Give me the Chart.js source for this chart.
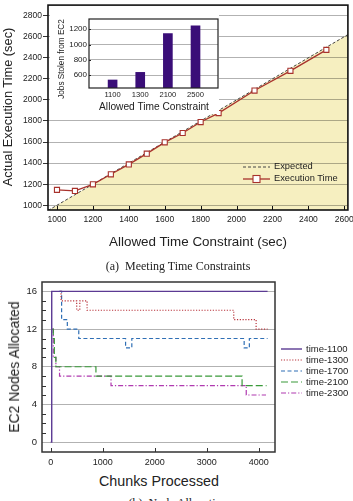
<!DOCTYPE html>
<html>
<head>
<meta charset="utf-8">
<script src="https://cdn.jsdelivr.net/npm/chart.js@4/dist/chart.umd.min.js"></script>
<style>
  body { margin: 0; width: 353px; height: 501px; overflow: hidden; background: #fff; position: relative;
         font-family: "Liberation Sans", Arial, sans-serif; color: #222; }
  canvas { position: absolute; }
  .ctr { position: absolute; transform: translate(-50%, -50%); white-space: nowrap; line-height: 1; }
  .rot { position: absolute; transform: translate(-50%, -50%) rotate(-90deg); white-space: nowrap; line-height: 1; }
  .cap { font-family: "Liberation Serif", "Times New Roman", serif; font-size: 12px; color: #222; }
  .leg { position: absolute; font-size: 9.3px; line-height: 1; white-space: nowrap; }
  .leg svg { position: absolute; }
  #insetBox { position: absolute; left: 50px; top: 6px; width: 169px; height: 108px; background: #fff; }
</style>
</head>
<body>

<canvas id="topChart" width="353" height="250" style="left:0;top:0"></canvas>
<div id="insetBox"><canvas id="insetChart" width="169" height="108" style="left:0;top:0"></canvas></div>
<canvas id="nodeChart" width="353" height="200" style="left:0;top:272px"></canvas>

<!-- titles -->
<div class="rot" style="left:8px;top:107px;font-size:12.8px">Actual Execution Time (sec)</div>
<div class="ctr" style="left:198px;top:242px;font-size:13.4px">Allowed Time Constraint (sec)</div>
<div class="ctr cap" style="left:178px;top:266px">(a)&nbsp;&nbsp;Meeting Time Constraints</div>
<div class="rot" style="left:62px;top:59px;font-size:8.2px">Jobs Stolen from EC2</div>
<div class="ctr" style="left:154px;top:107px;font-size:10.2px">Allowed Time Constraint</div>

<div class="rot" style="left:15px;top:367px;font-size:13.9px">EC2 Nodes Allocated</div>
<div class="ctr" style="left:159px;top:481px;font-size:14.3px">Chunks Processed</div>
<div class="ctr cap" style="left:178px;top:503px">(b)&nbsp;&nbsp;Node Allocation</div>

<div id="topLegend"></div>
<div id="nodeLegend"></div>

<script>
// ---- top chart: execution time vs allowed time
const allowedTimes = [1000, 1100, 1200, 1300, 1400, 1500, 1600, 1700, 1800, 1900, 2100, 2300, 2500];
const execTimes    = [1146, 1136, 1199, 1294, 1388, 1490, 1597, 1686, 1790, 1875, 2089, 2276, 2475];
const expectedX = [950, 2620];
const expectedY = [950, 2620];
const topXTicks = [1000, 1200, 1400, 1600, 1800, 2000, 2200, 2400, 2600];
const topYTicks = [1000, 1200, 1400, 1600, 1800, 2000, 2200, 2400, 2600, 2800];

// ---- inset bars: jobs stolen
const insetLabels = ['1100', '1300', '2100', '2500'];
const jobsStolen = [535, 635, 1145, 1245];
const insetYTicks = [600, 800, 1000, 1200];

// ---- bottom chart: nodes allocated (x = chunk where value changes, y = new value)
const t1100x = [0, 20, 4170];
const t1100y = [0, 16, 16];
const t1300x = [180, 200, 500, 560, 700, 3520, 3950, 4170];
const t1300y = [16, 15, 14, 15, 14, 13, 12, 12];
const t1700x = [160, 210, 320, 540, 1440, 1560, 3720, 3820, 4170];
const t1700y = [16, 13, 12, 11, 10, 11, 10, 11, 11];
const t2100x = [30, 50, 70, 100, 870, 3680, 4150];
const t2100y = [12, 11, 9, 8, 7, 6, 6];
const t2300x = [30, 50, 100, 170, 1160, 3760, 4140];
const t2300y = [12, 9, 8, 7, 6, 5, 5];
const nodeXTicks = [0, 1000, 2000, 3000, 4000];
const nodeYTicks = [0, 4, 8, 12, 16];
const nodeYMinor = [1, 2, 3, 5, 6, 7, 9, 10, 11, 13, 14, 15];

const SANS = '"Liberation Sans", Arial, sans-serif';
const GRID = 'rgba(0,0,0,0.3)';
const plain = v => String(v);

const pts = (xs, ys) => xs.map((x, i) => ({ x: x, y: ys[i] }));

// frame + inner tick marks
const frameTicks = {
  id: 'frameTicks',
  afterDraw(chart, args, o) {
    const { ctx, chartArea: a, scales } = chart;
    ctx.save();
    ctx.strokeStyle = o.color;
    ctx.lineWidth = 1;
    ctx.beginPath();
    (o.x || []).forEach(v => {
      const p = Math.round(scales.x.getPixelForValue(v)) + 0.5;
      ctx.moveTo(p, a.bottom); ctx.lineTo(p, a.bottom - o.len);
    });
    (o.y || []).forEach(v => {
      const p = Math.round(scales.y.getPixelForValue(v)) + 0.5;
      ctx.moveTo(a.left, p); ctx.lineTo(a.left + o.len, p);
    });
    ctx.stroke();
    ctx.lineWidth = o.width;
    ctx.strokeRect(a.left, a.top, a.right - a.left, a.bottom - a.top);
    ctx.restore();
  }
};

function fixAxis(size, horiz) {
  return s => {
    if (horiz) s.height = size; else s.width = size;
    s.paddingLeft = 0; s.paddingRight = 0; s.paddingTop = 0; s.paddingBottom = 0;
  };
}
const setTicks = vals => s => { s.ticks = vals.map(v => ({ value: v })); };

// ---------------- top chart
new Chart(document.getElementById('topChart'), {
  type: 'line',
  data: {
    datasets: [{
      label: 'Execution Time',
      data: pts(allowedTimes, execTimes),
      borderColor: '#a8322c',
      borderWidth: 1.3,
      pointStyle: 'rect',
      pointRadius: 3.6,
      pointBorderWidth: 1.1,
      pointBackgroundColor: '#fff',
      pointBorderColor: '#a8322c',
      fill: false
    }, {
      label: 'Expected',
      data: pts(expectedX, expectedY),
      borderColor: '#444',
      borderWidth: 1,
      borderDash: [3, 2],
      pointRadius: 0,
      fill: 'start',
      backgroundColor: '#f6efc0'
    }]
  },
  options: {
    responsive: false,
    animation: false,
    devicePixelRatio: 1,
    layout: { padding: { top: 5, right: 5, left: 0, bottom: 0 } },
    plugins: {
      legend: { display: false },
      tooltip: { enabled: false },
      filler: { drawTime: 'beforeDraw' },
      frameTicks: { x: topXTicks, len: 4, color: '#111', width: 1.6 }
    },
    scales: {
      x: {
        type: 'linear', min: 950, max: 2620,
        afterBuildTicks: setTicks(topXTicks),
        afterFit: fixAxis(40, true),
        grid: { display: false, drawTicks: false },
        border: { display: false },
        ticks: { font: { family: SANS, size: 8.5 }, color: '#222', padding: 5, maxRotation: 0, autoSkip: false, callback: plain }
      },
      y: {
        min: 955, max: 2900,
        afterBuildTicks: setTicks(topYTicks),
        afterFit: fixAxis(48, false),
        grid: { color: GRID, lineWidth: 1, tickLength: 5, tickColor: '#333' },
        border: { display: false },
        ticks: { font: { family: SANS, size: 8.5 }, color: '#222', padding: 1, callback: plain }
      }
    }
  },
  plugins: [frameTicks]
});

// ---------------- inset bar chart
new Chart(document.getElementById('insetChart'), {
  type: 'bar',
  data: {
    datasets: [{
      data: jobsStolen.map((v, i) => ({ x: i, y: v })),
      backgroundColor: '#3a0e78',
      barThickness: 9
    }]
  },
  options: {
    responsive: false,
    animation: false,
    devicePixelRatio: 1,
    layout: { padding: { top: 13, right: 1, left: 0, bottom: 0 } },
    plugins: {
      legend: { display: false },
      tooltip: { enabled: false },
      frameTicks: { y: insetYTicks, len: 2, color: '#222', width: 1.2 }
    },
    scales: {
      x: {
        type: 'linear', min: -0.27, max: 3.23,
        afterBuildTicks: setTicks([0, 1, 2, 3]),
        afterFit: fixAxis(26, true),
        grid: { display: false, drawTicks: false },
        border: { display: false },
        ticks: { font: { family: SANS, size: 7.6 }, color: '#222', padding: 2.5,
                 callback: v => insetLabels[v] }
      },
      y: {
        min: 430, max: 1335,
        afterBuildTicks: setTicks(insetYTicks),
        afterFit: fixAxis(39, false),
        grid: { color: GRID, drawTicks: false },
        border: { display: false },
        ticks: { font: { family: SANS, size: 8 }, color: '#222', padding: 2, callback: plain }
      }
    }
  },
  plugins: [frameTicks]
});

// ---------------- bottom chart
const nodeSeries = [
  { label: 'time-1100', xs: t1100x, ys: t1100y, color: '#5b3a93', dash: [], w: 1.4 },
  { label: 'time-1300', xs: t1300x, ys: t1300y, color: '#b8343c', dash: [1.2, 1.6], w: 1.2 },
  { label: 'time-1700', xs: t1700x, ys: t1700y, color: '#2f6fb5', dash: [4, 2.5], w: 1.2 },
  { label: 'time-2100', xs: t2100x, ys: t2100y, color: '#3a9a3a', dash: [7, 3], w: 1.2 },
  { label: 'time-2300', xs: t2300x, ys: t2300y, color: '#b03ab0', dash: [5, 2, 1.2, 2], w: 1.2 }
];

new Chart(document.getElementById('nodeChart'), {
  type: 'line',
  data: {
    datasets: nodeSeries.map(s => ({
      label: s.label,
      data: pts(s.xs, s.ys),
      borderColor: s.color,
      borderDash: s.dash,
      borderWidth: s.w,
      stepped: 'before',
      pointRadius: 0,
      fill: false
    }))
  },
  options: {
    responsive: false,
    animation: false,
    devicePixelRatio: 1,
    layout: { padding: { top: 10, right: 78, left: 0, bottom: 0 } },
    plugins: {
      legend: { display: false },
      tooltip: { enabled: false },
      frameTicks: { x: nodeXTicks, y: nodeYMinor, len: 4, color: '#333', width: 1.5 }
    },
    scales: {
      x: {
        type: 'linear', min: -167, max: 4313,
        afterBuildTicks: setTicks(nodeXTicks),
        afterFit: fixAxis(20, true),
        grid: { display: false, drawTicks: false },
        border: { display: false },
        ticks: { font: { family: SANS, size: 9 }, color: '#222', padding: 5, maxRotation: 0, callback: plain }
      },
      y: {
        min: -1.05, max: 17,
        afterBuildTicks: setTicks(nodeYTicks),
        afterFit: fixAxis(42, false),
        grid: { color: GRID, drawTicks: false },
        border: { display: false },
        ticks: { font: { family: SANS, size: 9.5 }, color: '#222', padding: 5, callback: plain }
      }
    }
  },
  plugins: [frameTicks]
});

// ---------------- legends (html)
function sample(color, dash, w, marker) {
  const da = dash.length ? `stroke-dasharray="${dash.join(' ')}"` : '';
  let m = '';
  if (marker) m = `<rect x="10" y="2.5" width="7" height="7" fill="#fff" stroke="${color}" stroke-width="1.1"/>`;
  return `<svg width="27" height="12" style="left:0;top:-6px"><line x1="0" y1="6" x2="27" y2="6" stroke="${color}" stroke-width="${w}" ${da}/>${m}</svg>`;
}

const topLeg = document.getElementById('topLegend');
[
  { label: 'Expected', y: 167.3, svg: sample('#444', [3, 2], 1, false) },
  { label: 'Execution Time', y: 178.7, svg: sample('#a8322c', [], 1.3, true) }
].forEach(r => {
  const d = document.createElement('div');
  d.className = 'leg';
  d.style.left = '243px';
  d.style.top = r.y + 'px';
  d.innerHTML = r.svg + `<span style="position:absolute;left:31px;top:-5px">${r.label}</span>`;
  topLeg.appendChild(d);
});

const nodeLeg = document.getElementById('nodeLegend');
nodeSeries.forEach((s, i) => {
  const d = document.createElement('div');
  d.className = 'leg';
  d.style.left = '281px';
  d.style.top = (348.7 + i * 11) + 'px';
  d.style.fontSize = '9.5px';
  d.innerHTML = `<svg width="22" height="12" style="left:0;top:-6px"><line x1="0" y1="6" x2="21" y2="6" stroke="${s.color}" stroke-width="${s.w}" ${s.dash.length ? 'stroke-dasharray="' + s.dash.join(' ') + '"' : ''}/></svg>` +
    `<span style="position:absolute;left:25px;top:-5px">${s.label}</span>`;
  nodeLeg.appendChild(d);
});
</script>
</body>
</html>
